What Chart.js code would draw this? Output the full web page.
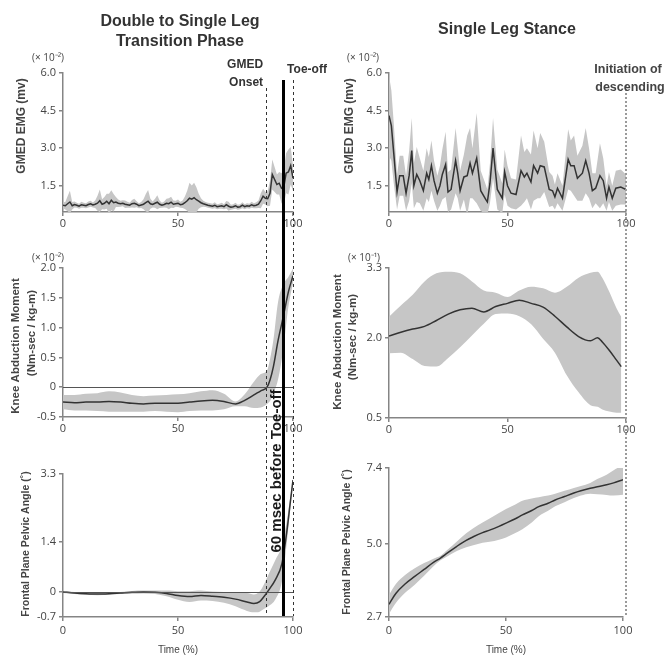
<!DOCTYPE html>
<html>
<head>
<meta charset="utf-8">
<script src="https://cdn.jsdelivr.net/npm/chart.js@4.4.1/dist/chart.umd.min.js"></script>
<style>
    body { margin: 0; background: #fff; }
    #quadro { position: relative; width: 666px; height: 656px; overflow: hidden; }
    canvas { position: absolute; }
</style>
</head>
<body>
<div id="quadro">
    <canvas id="g1" width="333" height="236" style="left:0;top:0"></canvas>
    <canvas id="g3" width="333" height="200" style="left:0;top:236px"></canvas>
    <canvas id="g5" width="333" height="220" style="left:0;top:436px"></canvas>
    <canvas id="g2" width="333" height="236" style="left:333px;top:0"></canvas>
    <canvas id="g4" width="333" height="200" style="left:333px;top:236px"></canvas>
    <canvas id="g6" width="333" height="220" style="left:333px;top:436px"></canvas>
    <canvas id="sobreEsq" width="333" height="656" style="left:0;top:0;z-index:2"></canvas>
    <canvas id="sobreDir" width="333" height="656" style="left:333px;top:0;z-index:2"></canvas>
</div>
<script>
'use strict';

// ===================== dados =====================
const ticksTempo = [0, 50, 100];

// GMED EMG - transicao (x 10^-2 mv), cada 1 %
const tempoP1 = [0,1,2,3,4,5,6,7,8,9,10,11,12,13,14,15,16,17,18,19,20,21,22,23,24,25,26,27,28,29,
    30,31,32,33,34,35,36,37,38,39,40,41,42,43,44,45,46,47,48,49,50,51,52,53,54,55,56,57,58,59,
    60,61,62,63,64,65,66,67,68,69,70,71,72,73,74,75,76,77,78,79,80,81,82,83,84,85,86,87,88,89,
    90,91,92,93,94,95,96,97,98,99,100];
const mediaP1 = [0.72,0.70,0.78,0.85,0.70,0.75,0.72,0.68,0.74,0.72,
    0.70,0.75,0.78,0.73,0.76,0.80,0.90,0.76,0.80,0.88,
    0.78,0.92,0.82,0.85,0.80,0.78,0.80,0.76,0.74,0.72,
    0.78,0.80,0.76,0.70,0.73,0.76,0.82,0.88,0.78,0.75,
    0.80,0.84,0.76,0.72,0.75,0.80,0.78,0.84,0.76,0.78,
    0.80,0.74,0.76,0.82,0.90,1.00,0.96,1.02,0.94,0.88,
    0.82,0.78,0.75,0.72,0.70,0.68,0.72,0.66,0.68,0.70,
    0.66,0.74,0.68,0.64,0.66,0.70,0.64,0.66,0.72,0.66,
    0.70,0.68,0.74,0.70,0.72,0.76,0.90,1.08,1.00,0.98,
    1.20,1.95,1.75,1.55,1.60,1.40,1.45,2.00,2.05,2.30,
    1.80];
const dpP1 = [0.12,0.15,0.30,0.45,0.15,0.12,0.10,0.10,0.12,0.10,
    0.10,0.12,0.12,0.10,0.15,0.30,0.45,0.20,0.25,0.30,
    0.40,0.40,0.35,0.20,0.15,0.12,0.12,0.15,0.12,0.10,
    0.15,0.18,0.12,0.10,0.12,0.20,0.35,0.45,0.20,0.12,
    0.18,0.28,0.15,0.10,0.12,0.18,0.22,0.22,0.15,0.12,
    0.15,0.12,0.15,0.25,0.40,0.62,0.55,0.60,0.50,0.30,
    0.18,0.12,0.10,0.10,0.10,0.10,0.12,0.10,0.10,0.12,
    0.10,0.15,0.18,0.10,0.10,0.12,0.10,0.10,0.12,0.10,
    0.10,0.10,0.12,0.10,0.12,0.15,0.30,0.30,0.25,0.30,
    0.50,0.60,0.50,0.40,0.45,0.60,0.70,0.80,0.90,0.75,
    0.50];
const ticksP1 = [1.5, 3.0, 4.5, 6.0];

// GMED EMG - apoio unipodal (x 10^-2 mv)
const tempoP2 = [0,1,2,3.4,4.5,6,7.2,8.5,9.6,10.5,11.7,13,14.5,15.9,16.8,17.9,19,20.4,21.5,22.5,
    23.9,24.9,26.2,28.1,29,30,31.6,33,34.2,35.2,37,38.7,40.8,41.5,42.6,43.9,45.7,47.8,48.8,50,
    51.5,53.6,55.7,57.1,58.2,59.9,61,62.7,63.8,65.5,67.6,69,70,71.1,73.2,75.6,76.7,78.1,79.5,81.6,
    83,84.4,85.8,87.2,89,90.4,91.8,92.8,94.2,95.7,97.8,100];
const mediaP2 = [4.3,3.9,2.8,1.25,1.9,1.9,1.2,1.9,2.9,1.5,1.95,1.7,1.3,2.0,1.75,2.3,1.7,1.2,1.5,1.95,
    2.35,1.25,1.35,2.5,2.0,1.3,1.85,1.9,2.4,2.0,2.6,1.3,0.95,0.85,1.6,3.0,1.35,1.0,2.05,1.5,
    1.2,1.15,2.1,1.85,2.0,1.65,2.3,2.0,2.3,2.25,1.35,1.3,1.05,1.4,1.0,2.55,2.3,2.3,1.8,2.0,
    2.5,2.0,1.3,1.4,1.9,1.7,1.0,1.45,1.0,1.4,1.45,1.35];
const dpP2 = [1.6,1.4,1.2,0.7,0.8,0.8,0.7,1.0,1.3,0.9,1.1,0.9,0.8,1.0,0.9,1.0,0.8,0.7,0.8,1.0,
    1.3,0.8,0.8,1.3,1.0,0.8,0.9,1.6,1.4,1.0,1.8,0.8,0.6,0.5,0.8,1.2,0.8,0.6,0.9,0.8,
    0.6,0.6,1.4,1.0,1.0,1.1,1.4,1.0,1.3,1.0,0.7,0.6,0.5,0.6,0.5,1.2,1.0,1.2,0.9,1.1,
    1.3,1.0,0.7,0.6,1.3,0.9,0.5,0.6,0.5,0.7,0.7,0.6];
const ticksP2 = [1.5, 3.0, 4.5, 6.0];

// momento abdutor do joelho - transicao (x 10^-2)
const tempoP3 = [0,5,10,15,20,25,30,35,40,45,50,55,60,65,70,75,79,83,86,88.7,90,91.5,93.5,95.7,98,100];
const mediaP3 = [-0.25,-0.26,-0.25,-0.25,-0.24,-0.25,-0.27,-0.28,-0.27,-0.27,-0.27,-0.25,-0.23,-0.22,
    -0.24,-0.28,-0.22,-0.13,-0.06,0.0,0.12,0.35,0.78,1.17,1.6,1.87];
const dpP3 = [0.12,0.13,0.14,0.15,0.17,0.16,0.14,0.13,0.13,0.14,0.15,0.15,0.16,0.17,
    0.13,0.04,0.10,0.22,0.28,0.28,0.35,0.45,0.65,0.55,0.25,0.12];
const ticksP3 = [-0.5, 0, 0.5, 1.0, 1.5, 2.0];

// momento abdutor do joelho - apoio unipodal (x 10^-1)
const tempoP4 = [0,5,10,15,20,25,30,35,40,45,50,55,60,65,70,75,80,85,88,90,93,96,98];
const mediaP4 = [2.03,2.1,2.16,2.21,2.32,2.44,2.52,2.55,2.48,2.58,2.64,2.70,2.64,2.57,2.40,2.2,
    2.02,1.94,2.0,1.92,1.76,1.58,1.46];
const supP4 = [2.39,2.6,2.8,3.05,3.2,3.23,3.2,3.05,2.88,2.84,2.76,2.88,2.95,2.92,2.84,2.95,
    3.12,3.21,3.23,3.12,2.85,2.55,2.39];
const infP4 = [1.71,1.72,1.6,1.47,1.46,1.62,1.82,2.04,2.26,2.44,2.45,2.4,2.25,1.98,1.72,1.3,
    0.98,0.74,0.71,0.66,0.62,0.6,0.6];
const ticksP4 = [0.5, 2.0, 3.3];

// angulo pelvico frontal - transicao
const tempoP5 = [0,5,10,15,20,25,30,35,40,45,50,55,60,65,70,75,80,83,85.5,87.5,89.5,92.3,95.2,97.4,98.8,100];
const mediaP5 = [0.0,-0.03,-0.05,-0.06,-0.05,-0.03,-0.01,0.0,-0.01,-0.04,-0.1,-0.13,-0.1,-0.12,
    -0.15,-0.2,-0.28,-0.32,-0.27,-0.12,0.06,0.34,0.8,1.73,2.49,3.13];
const dpP5 = [0.03,0.03,0.03,0.03,0.03,0.03,0.04,0.04,0.05,0.08,0.12,0.15,0.14,0.13,
    0.15,0.2,0.25,0.25,0.28,0.35,0.45,0.55,0.5,0.3,0.15,0.05];
const ticksP5 = [-0.7, 0, 1.4, 3.3];

// angulo pelvico frontal - apoio unipodal
const tempoP6 = [0,3,7,11,15,19,22,25,29,33,36,40,43,47,50,54,57,61,64,68,71,75,79,82,86,89,93,96,100];
const mediaP6 = [3.1,3.45,3.75,3.98,4.2,4.42,4.56,4.72,4.93,5.12,5.23,5.36,5.44,5.56,5.66,5.8,
    5.92,6.06,6.18,6.29,6.39,6.5,6.61,6.68,6.76,6.81,6.87,6.93,7.03];
const dpP6 = [0.3,0.3,0.28,0.26,0.2,0.12,0.07,0.1,0.15,0.22,0.27,0.32,0.37,0.42,0.45,0.45,
    0.45,0.38,0.3,0.24,0.2,0.18,0.16,0.15,0.17,0.24,0.32,0.4,0.47];
const ticksP6 = [2.7, 5.0, 7.4];

// eventos (% da fase)
const inicioGmed = 88.3;
const antesToeOff = 95.7;
const toeOff = 100;
const inicioDescida = 100;
//===============================================================================================

Chart.defaults.font.family = "'Open Sans', 'Liberation Sans', sans-serif";
const corEixo = '#858585';
const corTexto = '#444';
const corFaixa = '#c6c6c6';
const corLinha = '#333';
const fonteEixo = 'bold 12px "Liberation Sans"';

function somar(media, dp, sinal) {
    return media.map((m, i) => m + sinal * dp[i]);
}

function textos(itens, ox, oy) {
    return {
        id: 'textos',
        afterDraw(chart) {
            const ctx = chart.ctx;
            itens.forEach(it => {
                ctx.save();
                ctx.font = it.fonte;
                ctx.fillStyle = it.cor || corTexto;
                ctx.textAlign = it.alinha || 'center';
                ctx.textBaseline = 'middle';
                ctx.translate(it.x - ox, it.y - oy);
                if (it.gira) ctx.rotate(-Math.PI / 2);
                ctx.fillText(it.t, 0, 0);
                ctx.restore();
            });
        }
    };
}

const linhaZero = {
    id: 'linhaZero',
    afterDatasetsDraw(chart) {
        const { ctx, chartArea: a, scales: { y } } = chart;
        const py = Math.round(y.getPixelForValue(0)) + 0.5;
        ctx.save();
        ctx.strokeStyle = '#555';
        ctx.lineWidth = 1;
        ctx.beginPath();
        ctx.moveTo(a.left, py);
        ctx.lineTo(a.right, py);
        ctx.stroke();
        ctx.restore();
    }
};

function painel(id, c) {
    const pontos = ys => c.tempo.map((t, i) => ({ x: t, y: ys[i] }));
    const curva = c.suave ? { cubicInterpolationMode: 'monotone' } : { tension: 0 };
    const plugins = [textos(c.textos, c.ox, c.oy)];
    if (c.zero) plugins.push(linhaZero);
    return new Chart(document.getElementById(id), {
        type: 'line',
        data: {
            // a media fica por cima: o Chart.js desenha o dataset 0 por ultimo
            datasets: [
                Object.assign({ data: pontos(c.media), borderWidth: 1.5, borderColor: corLinha,
                    pointRadius: 0, fill: false }, curva),
                Object.assign({ data: pontos(c.sup), borderWidth: 0, borderColor: 'transparent',
                    backgroundColor: corFaixa, pointRadius: 0, fill: '+1' }, curva),
                Object.assign({ data: pontos(c.inf), borderWidth: 0, borderColor: 'transparent',
                    pointRadius: 0, fill: false }, curva)
            ]
        },
        options: {
            responsive: false,
            animation: false,
            events: [],
            layout: { autoPadding: false, padding: { top: c.topo, right: c.direita, bottom: 0, left: 0 } },
            plugins: { legend: { display: false }, tooltip: { enabled: false } },
            scales: {
                x: {
                    type: 'linear', min: 0, max: 100,
                    afterBuildTicks: s => { s.ticks = ticksTempo.map(v => ({ value: v })); },
                    afterFit: s => { s.height = c.altX; },
                    border: { display: true, color: corEixo, width: 1.5 },
                    grid: { drawOnChartArea: false, drawTicks: true, tickLength: 4, color: corEixo, lineWidth: 1.5 },
                    ticks: { autoSkip: false, maxRotation: 0, padding: c.padX, color: corTexto,
                        font: { size: 11 }, callback: v => String(v) },
                    title: { display: !!c.tituloX, text: c.tituloX || '', color: corTexto,
                        font: { size: 10, family: '"Liberation Sans"' }, padding: { top: 0, bottom: 0 } }
                },
                y: {
                    type: 'linear', min: c.yMin, max: c.yMax,
                    afterBuildTicks: s => { s.ticks = c.ticks.map(v => ({ value: v })); },
                    afterFit: s => { s.width = c.largY; },
                    border: { display: true, color: corEixo, width: 1.5 },
                    grid: { drawOnChartArea: false, drawTicks: true, tickLength: 4, color: corEixo, lineWidth: 1.5 },
                    ticks: { autoSkip: false, padding: 3, color: corTexto, font: { size: 11 },
                        callback: v => v === 0 ? '0' : v.toFixed(1) }
                }
            }
        },
        plugins: plugins
    });
}

// ------------------------------- coluna esquerda -------------------------------
painel('g1', {
    tempo: tempoP1, media: mediaP1, sup: somar(mediaP1, dpP1, 1), inf: somar(mediaP1, dpP1, -1),
    yMin: 0.45, yMax: 6.0, ticks: ticksP1, ox: 0, oy: 0,
    topo: 73, direita: 40, largY: 63, altX: 24, padX: 1,
    textos: [
        { t: 'Double to Single Leg', x: 180, y: 22, fonte: 'bold 16px "Liberation Sans"', cor: '#333' },
        { t: 'Transition Phase', x: 180, y: 42, fonte: 'bold 16px "Liberation Sans"', cor: '#333' },
        { t: '(\u00d7 10\u207b\u00b2)', x: 48, y: 58, fonte: '10px "Open Sans"' },
        { t: 'GMED EMG (mv)', x: 22, y: 126, fonte: fonteEixo, gira: true }
    ]
});

painel('g3', {
    tempo: tempoP3, media: mediaP3, sup: somar(mediaP3, dpP3, 1), inf: somar(mediaP3, dpP3, -1),
    yMin: -0.5, yMax: 2.0, ticks: ticksP3, ox: 0, oy: 236, suave: true, zero: true,
    topo: 32, direita: 40, largY: 63, altX: 19, padX: 1,
    textos: [
        { t: '(\u00d7 10\u207b\u00b2)', x: 48, y: 258, fonte: '10px "Open Sans"' },
        { t: 'Knee Abduction Moment', x: 16, y: 346, fonte: 'bold 11.5px "Liberation Sans"', gira: true },
        { t: '(Nm-sec / kg-m)', x: 32, y: 333, fonte: 'bold 11.5px "Liberation Sans"', gira: true }
    ]
});

painel('g5', {
    tempo: tempoP5, media: mediaP5, sup: somar(mediaP5, dpP5, 1), inf: somar(mediaP5, dpP5, -1),
    yMin: -0.7, yMax: 3.3, ticks: ticksP5, ox: 0, oy: 436, suave: true, zero: true,
    topo: 38, direita: 40, largY: 63, altX: 39, padX: 3, tituloX: 'Time (%)',
    textos: [
        { t: 'Frontal Plane Pelvic Angle (\u02da)', x: 26, y: 544, fonte: 'bold 10.5px "Liberation Sans"', gira: true }
    ]
});

// ------------------------------- coluna direita -------------------------------
painel('g2', {
    tempo: tempoP2, media: mediaP2, sup: somar(mediaP2, dpP2, 1), inf: somar(mediaP2, dpP2, -1),
    yMin: 0.45, yMax: 6.0, ticks: ticksP2, ox: 333, oy: 0,
    topo: 73, direita: 40, largY: 56, altX: 24, padX: 1,
    textos: [
        { t: 'Single Leg Stance', x: 507, y: 30, fonte: 'bold 16px "Liberation Sans"', cor: '#333' },
        { t: '(\u00d7 10\u207b\u00b2)', x: 363, y: 58, fonte: '10px "Open Sans"' },
        { t: 'GMED EMG (mv)', x: 350, y: 126, fonte: fonteEixo, gira: true }
    ]
});

painel('g4', {
    tempo: tempoP4, media: mediaP4, sup: supP4, inf: infP4,
    yMin: 0.5, yMax: 3.3, ticks: ticksP4, ox: 333, oy: 236, suave: true,
    topo: 32, direita: 40, largY: 56, altX: 18, padX: 1,
    textos: [
        { t: '(\u00d7 10\u207b\u00b9)', x: 364, y: 258, fonte: '10px "Open Sans"' },
        { t: 'Knee Abduction Moment', x: 338, y: 342, fonte: 'bold 11.5px "Liberation Sans"', gira: true },
        { t: '(Nm-sec / kg-m)', x: 353, y: 337, fonte: 'bold 11.5px "Liberation Sans"', gira: true }
    ]
});

painel('g6', {
    tempo: tempoP6, media: mediaP6, sup: somar(mediaP6, dpP6, 1), inf: somar(mediaP6, dpP6, -1),
    yMin: 2.7, yMax: 7.4, ticks: ticksP6, ox: 333, oy: 436, suave: true,
    topo: 32, direita: 43, largY: 56, altX: 39, padX: 3, tituloX: 'Time (%)',
    textos: [
        { t: 'Frontal Plane Pelvic Angle (\u02da)', x: 347, y: 542, fonte: 'bold 10.5px "Liberation Sans"', gira: true }
    ]
});

//===============================================================================================
// linhas de eventos por cima das tres linhas de graficos
function marcasPlugin(marcas, rotulos) {
    return {
        id: 'marcas',
        afterDraw(chart) {
            const ctx = chart.ctx;
            const x = chart.scales.x;
            marcas.forEach(m => {
                let px = Math.round(x.getPixelForValue(m.valor));
                if (m.largura % 2) px += 0.5;
                ctx.save();
                ctx.strokeStyle = m.cor;
                ctx.lineWidth = m.largura;
                ctx.setLineDash(m.traco);
                ctx.beginPath();
                ctx.moveTo(px, m.topo);
                ctx.lineTo(px, m.base);
                ctx.stroke();
                ctx.restore();
            });
            rotulos.forEach(r => {
                ctx.save();
                ctx.font = r.fonte;
                ctx.fillStyle = r.cor || '#333';
                ctx.textAlign = r.alinha || 'center';
                ctx.textBaseline = 'middle';
                ctx.translate(x.getPixelForValue(r.valor) + r.dx, r.y);
                if (r.gira) ctx.rotate(-Math.PI / 2);
                ctx.fillText(r.t, 0, 0);
                ctx.restore();
            });
        }
    };
}

function sobreposicao(id, esquerda, marcas, rotulos) {
    return new Chart(document.getElementById(id), {
        type: 'line',
        data: { datasets: [] },
        options: {
            responsive: false,
            animation: false,
            events: [],
            layout: { autoPadding: false, padding: { left: esquerda, right: 40, top: 0, bottom: 0 } },
            plugins: { legend: { display: false }, tooltip: { enabled: false } },
            scales: {
                x: { type: 'linear', min: 0, max: 100, display: false },
                y: { type: 'linear', min: 0, max: 1, display: false }
            }
        },
        plugins: [marcasPlugin(marcas, rotulos)]
    });
}

const rotuloBold = 'bold 12px "Liberation Sans"';
sobreposicao('sobreEsq', 63, [
    { valor: inicioGmed, topo: 88, base: 616, cor: '#333', largura: 1, traco: [3, 3] },
    { valor: toeOff, topo: 80, base: 616, cor: '#333', largura: 1, traco: [3, 3] },
    { valor: antesToeOff, topo: 80, base: 616, cor: '#000', largura: 3, traco: [] }
], [
    { t: 'GMED', valor: inicioGmed, dx: -3, y: 65, alinha: 'right', fonte: rotuloBold },
    { t: 'Onset', valor: inicioGmed, dx: -3, y: 83, alinha: 'right', fonte: rotuloBold },
    { t: 'Toe-off', valor: antesToeOff, dx: 4, y: 70, alinha: 'left', fonte: rotuloBold },
    { t: '60 msec before Toe-off', valor: antesToeOff, dx: -6, y: 471, fonte: 'bold 15px "Liberation Sans"',
        cor: '#1a1a1a', gira: true }
]);

sobreposicao('sobreDir', 56, [
    { valor: inicioDescida, topo: 85, base: 616, cor: '#9a9a9a', largura: 2, traco: [2, 2] }
], [
    { t: 'Initiation of', valor: inicioDescida, dx: 2, y: 70, fonte: 'bold 12.5px "Liberation Sans"', cor: '#444' },
    { t: 'descending', valor: inicioDescida, dx: 4, y: 88, fonte: 'bold 12.5px "Liberation Sans"', cor: '#444' }
]);
</script>
</body>
</html>
